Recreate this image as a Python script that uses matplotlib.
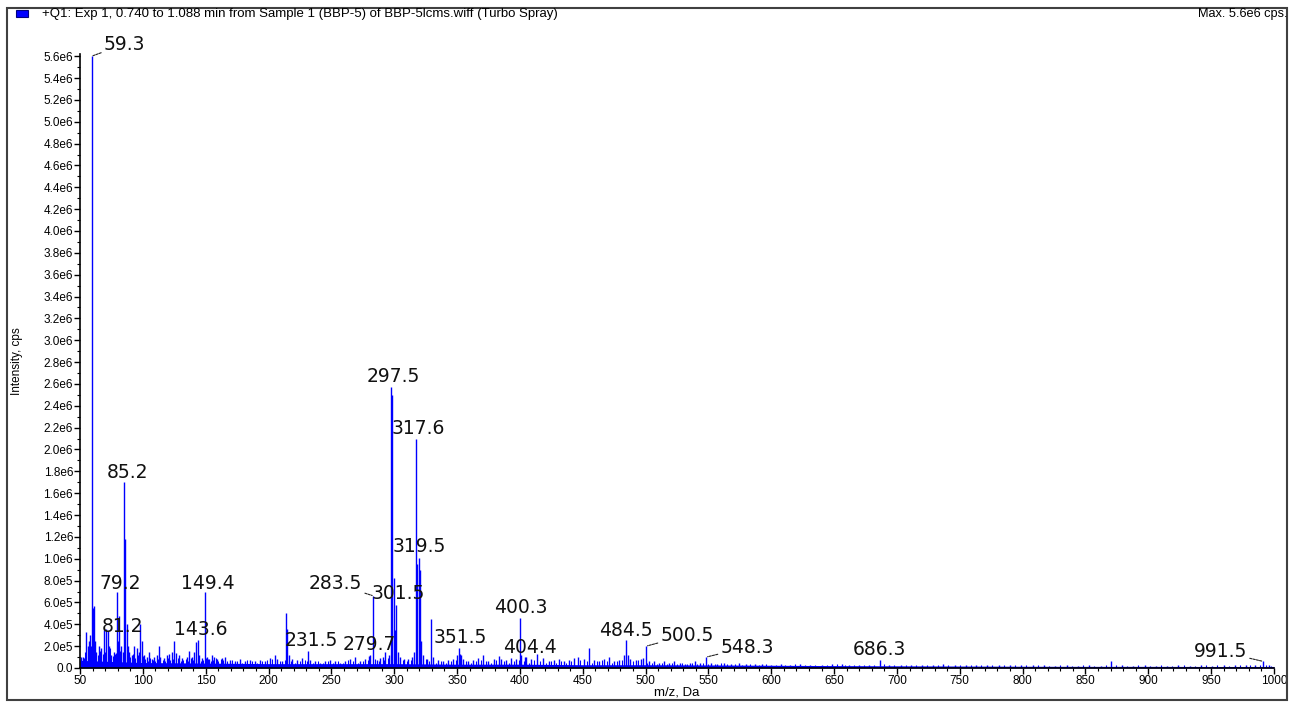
import numpy as np
import matplotlib
matplotlib.use("Agg")
import matplotlib.pyplot as plt
from matplotlib.patches import Rectangle
from matplotlib.ticker import MultipleLocator, FuncFormatter

# labelled peaks: m/z and intensity (cps)
label_mz = [59.3, 85.2, 79.2, 81.2, 149.4, 143.6, 231.5, 279.7, 283.5, 301.5,
            297.5, 317.6, 319.5, 351.5, 400.3, 404.4, 484.5, 500.5, 548.3, 686.3, 991.5]
label_int = [5.60e6, 1.70e6, 7.0e5, 4.8e5, 7.0e5, 2.6e5, 1.6e5, 1.1e5, 6.6e5, 5.8e5,
             2.57e6, 2.10e6, 1.01e6, 1.8e5, 4.6e5, 1.0e5, 2.6e5, 2.0e5, 1.0e5, 7.0e4, 6.0e4]

# other peaks: m/z and intensity in units of 1e5 cps
minor_mz = [50.5, 52, 53, 55, 56, 57, 58, 60, 61, 62, 63, 65, 67, 69, 70, 71, 72, 73, 75, 77,
            78, 80, 83, 84, 86, 87, 88, 89, 91, 93, 95, 97, 98, 99, 101, 103, 105, 107, 109, 111,
            113, 114, 117, 119, 121, 123, 125, 126, 129, 131, 135, 137, 139, 141, 142, 145, 147, 151,
            153, 155, 157, 159, 163, 165, 169, 173, 177, 181, 185, 189, 193, 197, 201, 205, 207, 211,
            214, 215, 216, 219, 223, 227, 233, 237, 241, 245, 249, 253, 257, 261, 265, 269, 273, 277,
            281, 286, 289, 291, 293, 296, 298.5, 299.5, 300.5, 303, 305, 308, 311, 314, 316, 318.5,
            320.5, 321.5, 323, 326, 329, 331, 335, 339, 343, 347, 350, 352.5, 353.5, 355, 359, 363,
            367, 371, 375, 379, 383, 385, 389, 393, 397, 401, 405, 409, 414, 418, 423, 427, 431, 435,
            439, 443, 446, 451, 455, 459, 463, 467, 471, 475, 479, 483, 486, 488, 492, 496, 498, 503,
            507, 511, 515, 519, 523, 527, 531, 535, 539, 543, 552, 557, 562, 568, 574, 580, 587, 593,
            600, 608, 615, 623, 631, 640, 648, 656, 662, 670, 678, 694, 703, 711, 720, 729, 737, 746,
            755, 763, 772, 781, 790, 799, 808, 817, 826, 835, 844, 853, 862, 870, 879, 888, 897, 906,
            915, 924, 933, 942, 951, 960, 969, 978, 985, 996]
minor_int = [1.0, 1.0, 0.9, 3.3, 2.0, 2.5, 3.0, 5.5, 5.7, 2.5, 1.5, 2.0, 1.8, 3.5, 1.5, 3.6, 3.4, 2.0, 1.2, 1.5,
             1.3, 2.5, 2.0, 1.5, 11.8, 4.0, 2.0, 1.5, 1.2, 2.0, 1.8, 1.5, 4.0, 2.5, 1.2, 1.0, 1.5, 0.8, 1.0, 1.2,
             2.0, 1.0, 0.9, 1.2, 1.3, 1.5, 2.5, 1.4, 1.2, 0.9, 1.0, 1.6, 1.0, 1.5, 2.4, 1.2, 0.9, 1.0,
             0.8, 1.2, 1.0, 0.8, 0.9, 1.0, 0.7, 0.6, 0.8, 0.6, 0.7, 0.6, 0.7, 0.6, 0.9, 1.2, 0.8, 0.6,
             5.0, 3.6, 1.2, 0.8, 0.7, 0.9, 0.7, 0.6, 0.5, 0.6, 0.7, 0.6, 0.5, 0.6, 0.8, 1.0, 0.6, 0.8,
             1.2, 0.7, 0.9, 1.0, 1.5, 1.2, 25.0, 8.2, 3.5, 1.5, 1.0, 0.8, 0.8, 1.0, 1.5, 9.5,
             9.0, 2.5, 1.2, 0.8, 4.5, 1.0, 0.7, 0.6, 0.7, 0.8, 1.2, 1.3, 1.2, 0.8, 0.6, 0.7,
             0.9, 1.2, 0.6, 0.8, 1.1, 0.8, 0.7, 0.9, 0.8, 1.2, 1.0, 0.8, 1.3, 0.9, 0.6, 0.7, 0.8, 0.6,
             0.7, 0.9, 1.0, 0.8, 1.8, 0.7, 0.6, 0.8, 1.0, 0.6, 0.7, 1.2, 1.2, 0.8, 0.7, 0.8, 0.9, 0.6,
             0.6, 0.5, 0.6, 0.5, 0.6, 0.5, 0.4, 0.5, 0.6, 0.5, 0.5, 0.4, 0.5, 0.4, 0.5, 0.4, 0.4, 0.4,
             0.3, 0.4, 0.3, 0.4, 0.3, 0.3, 0.4, 0.4, 0.3, 0.3, 0.3, 0.3, 0.3, 0.3, 0.3, 0.3, 0.4, 0.3,
             0.3, 0.3, 0.3, 0.3, 0.3, 0.3, 0.3, 0.3, 0.2, 0.3, 0.2, 0.3, 0.2, 0.6, 0.3, 0.2, 0.3, 0.2,
             0.2, 0.3, 0.2, 0.3, 0.2, 0.3, 0.3, 0.3, 0.3, 0.3]

# small noise spikes between the peaks above, in units of 1e5 cps
fine_mz = [51, 54, 59, 64, 66, 68, 74, 76, 79, 82, 90, 92, 94, 96, 100,
           102, 104, 106, 108, 110, 112, 116, 118, 120, 122,
           124, 128, 130, 132, 134, 136, 138, 140, 144, 146,
           148, 150, 152, 154, 156, 158, 160, 162, 164, 167,
           171, 175, 179, 183, 187, 191, 195, 199, 203, 209,
           213, 218, 221, 225, 229, 231, 235, 239, 243, 247,
           251, 255, 259, 263, 267, 271, 275, 279, 284.5, 288,
           292, 295, 307, 310, 313, 325, 328, 333, 337, 341,
           345, 349, 357, 361, 365, 369, 373, 377, 381, 387,
           391, 395, 399, 403, 407, 411, 416, 421, 425, 429,
           433, 437, 441, 448, 453, 457, 461, 465, 469, 473,
           477, 481, 490, 494, 501.5, 505, 509, 513, 517, 521,
           525, 529, 533, 537, 541, 546, 550, 555, 560, 565,
           571, 577, 583, 590, 596, 604, 611, 619, 627, 635,
           644, 652, 659, 666, 674, 682, 690, 698, 707, 715,
           724, 733, 741, 750, 759, 767, 776, 785, 794, 803,
           812, 821, 830, 839, 848, 857, 866, 874, 883, 892,
           901, 910, 919, 928, 937, 946, 955, 964, 973, 981,
           989, 994, 998]
fine_int = [0.8, 1.5, 2.0, 1.2, 1.6, 1.3, 1.8, 1.1, 1.4, 1.6, 1.0, 1.3, 0.9, 1.2, 1.1,
            0.8, 0.6, 0.9, 0.7, 0.6, 0.8, 0.7, 0.6, 0.9, 0.7,
            0.8, 0.9, 0.6, 0.7, 0.8, 0.6, 0.9, 0.7, 0.8, 0.6,
            0.7, 0.9, 0.8, 0.6, 0.7, 0.9, 0.6, 0.8, 0.7, 0.6,
            0.7, 0.6, 0.5, 0.7, 0.6, 0.5, 0.6, 0.7, 0.8, 0.6,
            0.7, 0.6, 0.5, 0.6, 0.7, 0.6, 0.5, 0.6, 0.5, 0.6,
            0.5, 0.6, 0.5, 0.7, 0.6, 0.5, 0.6, 0.7, 0.8, 0.6,
            0.7, 0.9, 0.7, 0.6, 0.7, 0.8, 0.6, 0.5, 0.6, 0.5,
            0.6, 0.7, 0.6, 0.5, 0.6, 0.7, 0.6, 0.5, 0.7, 0.6,
            0.5, 0.6, 0.7, 0.6, 0.5, 0.7, 0.6, 0.5, 0.6, 0.5,
            0.6, 0.5, 0.6, 0.7, 0.6, 0.5, 0.6, 0.7, 0.6, 0.5,
            0.6, 0.7, 0.6, 0.7, 0.5, 0.5, 0.4, 0.5, 0.4, 0.5,
            0.4, 0.5, 0.4, 0.5, 0.4, 0.5, 0.4, 0.4, 0.5, 0.4,
            0.4, 0.3, 0.4, 0.3, 0.4, 0.3, 0.3, 0.4, 0.3, 0.3,
            0.3, 0.4, 0.3, 0.3, 0.3, 0.3, 0.4, 0.3, 0.3, 0.3,
            0.3, 0.3, 0.3, 0.3, 0.3, 0.3, 0.3, 0.3, 0.3, 0.3,
            0.3, 0.2, 0.3, 0.2, 0.3, 0.2, 0.3, 0.3, 0.2, 0.3,
            0.2, 0.3, 0.2, 0.3, 0.2, 0.3, 0.3, 0.2, 0.3, 0.3,
            0.3, 0.3, 0.2]

# baseline noise band, level in 1e5 cps
base_mz = [50, 75, 100, 150, 200, 250, 300, 350, 400, 450, 500, 550, 600, 650, 700, 750,
           800, 850, 900, 950, 1000]
base_int = [0.7, 0.6, 0.5, 0.45, 0.4, 0.4, 0.4, 0.35, 0.35, 0.3, 0.3, 0.28, 0.25, 0.22, 0.2,
            0.18, 0.16, 0.15, 0.15, 0.14, 0.14]

# label offsets (pixels) from the peak top, and which labels get a leader line
label_off = {59.3: (33, 12), 85.2: (3, 10), 79.2: (4, 8), 81.2: (3, -11), 149.4: (3, 8),
             143.6: (3, 10), 231.5: (3, 10), 279.7: (1, 11), 283.5: (-38, 12), 301.5: (2, 11),
             297.5: (2, 11), 317.6: (2, 10), 319.5: (1, 11), 351.5: (1, 11), 400.3: (1, 10),
             404.4: (5, 10), 484.5: (0, 9), 500.5: (41, 11), 548.3: (41, 10), 686.3: (0, 11),
             991.5: (-43, 10)}
leaders = {59.3, 283.5, 500.5, 548.3, 991.5}

blue = '#0000ff'
W, H = 1293, 704
fig = plt.figure(figsize=(W / 100, H / 100), dpi=100)
ax = fig.add_axes([80 / W, (H - 668) / H, 1194 / W, (668 - 54) / H])

ax.fill_between(base_mz, 0, np.array(base_int) * 1e5, color=blue, lw=0)
ax.vlines(fine_mz, 0, np.array(fine_int) * 1e5, color=blue, lw=0.8)
ax.vlines(minor_mz, 0, np.array(minor_int) * 1e5, color=blue, lw=1.0)
ax.vlines(label_mz, 0, label_int, color=blue, lw=1.0)

for mz, inten in zip(label_mz, label_int):
    dx, dy = label_off[mz]
    props = None
    if mz in leaders:
        props = dict(arrowstyle='-', color='#222222', lw=0.8, linestyle=(0, (2, 1)),
                     shrinkA=0, shrinkB=1)
    ax.annotate(f'{mz:.1f}', xy=(mz, inten), xytext=(dx, dy), textcoords='offset pixels',
                ha='center', va='center', fontsize=13.5, family='DejaVu Sans',
                color='#111111', arrowprops=props)

ax.set_xlim(50, 1000)
ax.set_ylim(0, 5.62e6)
ax.xaxis.set_major_locator(MultipleLocator(50))
ax.xaxis.set_minor_locator(MultipleLocator(10))
ax.yaxis.set_major_locator(MultipleLocator(2e5))
ax.yaxis.set_minor_locator(MultipleLocator(1e5))


def sci(v, pos):
    if abs(v) < 1:
        return '0.0'
    if v < 0:
        return ''
    e = int(np.floor(np.log10(v) + 1e-9))
    return f'{v / 10 ** e:.1f}e{e}'


ax.yaxis.set_major_formatter(FuncFormatter(sci))
ax.tick_params(which='major', length=4, width=1, labelsize=8.5, pad=1)
ax.tick_params(which='minor', length=2, width=0.8)
for lab in ax.get_xticklabels() + ax.get_yticklabels():
    lab.set_family('Liberation Sans')
for s in ['top', 'right']:
    ax.spines[s].set_visible(False)
for s in ['left', 'bottom']:
    ax.spines[s].set_linewidth(1.2)

ax.set_xlabel('m/z, Da', fontsize=9.5, family='Liberation Sans', labelpad=0)
ax.set_ylabel('Intensity, cps', fontsize=8.5, family='Liberation Sans')
ax.yaxis.set_label_coords(-57 / 1194, 0.5)

# outer frame and header
fig.add_artist(Rectangle((7 / W, 4 / H), 1280 / W, 692 / H, transform=fig.transFigure,
                         fill=False, ec='#404040', lw=1.5))
fig.add_artist(Rectangle((16 / W, (H - 17) / H), 12 / W, 7 / H, transform=fig.transFigure,
                         fc=blue, ec='#000080', lw=0.8))
fig.text(42 / W, (H - 14) / H,
         '+Q1: Exp 1, 0.740 to 1.088 min from Sample 1 (BBP-5) of BBP-5lcms.wiff (Turbo Spray)',
         fontsize=9.5, family='Liberation Sans', va='center', ha='left')
fig.text(1287 / W, (H - 14) / H, 'Max. 5.6e6 cps.', fontsize=9.2, family='Liberation Sans',
         va='center', ha='right')

fig.savefig('out.png', dpi=100)
